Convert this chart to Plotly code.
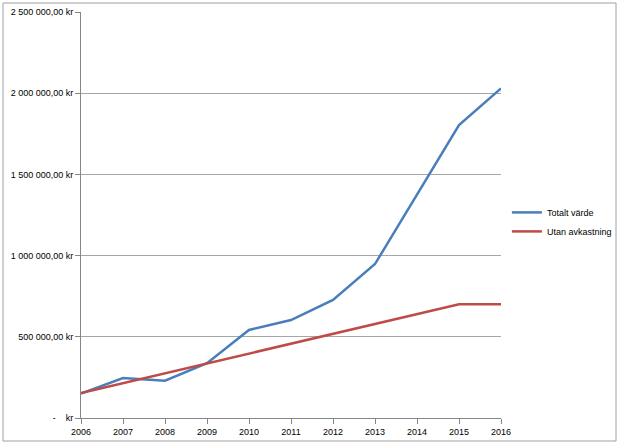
import plotly.graph_objects as go

years = [2006, 2007, 2008, 2009, 2010, 2011, 2012, 2013, 2014, 2015, 2016]
totalt_varde = [150000, 246000, 230000, 337000, 542000, 603000, 727000, 948000, 1375000, 1804000, 2030000]
utan_avkastning = [154000, 215000, 275000, 336000, 397000, 457000, 518000, 579000, 639000, 700000, 700000]
y_ticks = [0, 500000, 1000000, 1500000, 2000000, 2500000]
y_ticktext = ["-\u00a0\u00a0\u00a0\u00a0kr", "500 000,00 kr", "1 000 000,00 kr", "1 500 000,00 kr",
              "2 000 000,00 kr", "2 500 000,00 kr"]

font = dict(family="Liberation Sans, Arial, sans-serif", size=9, color="#000000")

fig = go.Figure()
fig.add_trace(go.Scatter(x=years, y=totalt_varde, mode="lines", name="Totalt värde",
                         line=dict(color="#4a7ebb", width=2.5)))
fig.add_trace(go.Scatter(x=years, y=utan_avkastning, mode="lines", name="Utan avkastning",
                         line=dict(color="#be4b48", width=2.5)))

fig.update_layout(
    width=620, height=445,
    margin=dict(l=81, r=119, t=12, b=27, autoexpand=False),
    paper_bgcolor="white", plot_bgcolor="white",
    font=font,
    showlegend=True,
    legend=dict(x=1.014, y=0.483, xanchor="left", yanchor="middle",
                font=dict(size=9), itemwidth=30, tracegroupgap=4,
                bgcolor="rgba(0,0,0,0)"),
    xaxis=dict(range=[2006, 2016], tickvals=years, ticktext=[str(y) for y in years],
               showgrid=False, showline=True, linecolor="#868686", linewidth=1,
               ticks="outside", ticklen=5, tickcolor="#868686", zeroline=False,
               tickfont=font, automargin=False),
    yaxis=dict(range=[0, 2500000], tickvals=y_ticks, ticktext=y_ticktext,
               showgrid=True, gridcolor="#a6a6a6", gridwidth=1,
               showline=True, linecolor="#868686", linewidth=1,
               ticks="outside", ticklen=5, tickcolor="#868686", zeroline=False,
               tickfont=font, automargin=False),
    shapes=[dict(type="rect", xref="paper", yref="paper",
                 x0=(3 - 81) / 420, x1=(616 - 81) / 420,
                 y0=(418 - 441) / 406, y1=(418 - 3) / 406,
                 line=dict(color="#a0a0a0", width=1), fillcolor="rgba(0,0,0,0)")],
)

fig.write_html("out.html", config={"displayModeBar": False})

# remove default page margin so the figure sits at the window's top-left corner
with open("out.html", "r", encoding="utf-8") as f:
    html = f.read()
html = html.replace("<head>", "<head><style>html,body{margin:0;padding:0;overflow:hidden;}</style>", 1)
with open("out.html", "w", encoding="utf-8") as f:
    f.write(html)
